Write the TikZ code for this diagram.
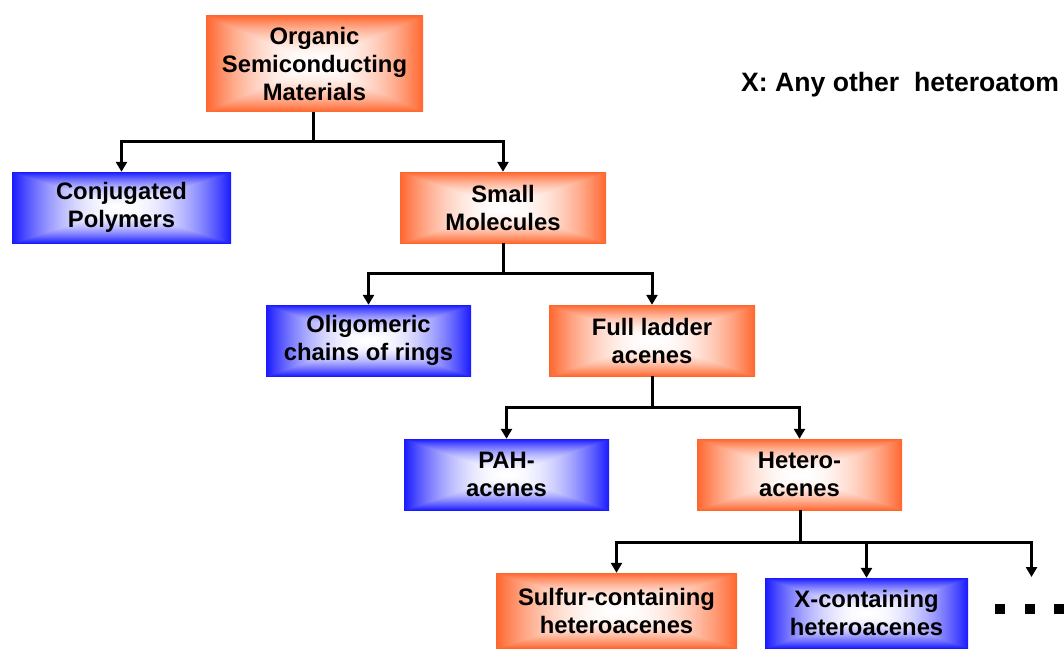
\documentclass[tikz,border=0pt]{standalone}
\usepackage{fontspec}
\setmainfont{Liberation Sans}
\usetikzlibrary{arrows.meta}
\pgfdeclarefunctionalshading{orangebox}{\pgfpoint{-50bp}{-50bp}}{\pgfpoint{50bp}{50bp}}{}{
abs exch abs 2 copy lt {exch} if pop 25 div dup 1 gt {pop 1} if dup mul
dup 0.6 mul 1 exch sub exch 0.82 mul 1 exch sub 1 3 1 roll
}
\pgfdeclarefunctionalshading{bluebox}{\pgfpoint{-50bp}{-50bp}}{\pgfpoint{50bp}{50bp}}{}{
abs exch abs 2 copy lt {exch} if pop 25 div dup 1 gt {pop 1} if dup mul
0.9 mul 1 exch sub dup 1
}
\tikzset{
  box/.style={rectangle, inner sep=0pt, align=center, font=\bfseries\fontsize{23.8}{28}\selectfont, text=black},
  obox/.style={box, shading=orangebox},
  bbox/.style={box, shading=bluebox},
  conn/.style={draw=black, line width=3pt},
  arr/.style={conn, -{Triangle[length=10pt,width=11pt]}},
  dotsq/.style={rectangle, fill=black, minimum size=10pt, inner sep=0pt},
}
\begin{document}
\begin{tikzpicture}[x=1pt,y=-1pt]
\useasboundingbox (0,0) rectangle (1064,648);
% boxes
\node[obox, minimum width=217pt, minimum height=96pt] (org) at (314.5,63.5) {Organic\\Semiconducting\\Materials};
\node[bbox, minimum width=219pt, minimum height=71pt] (cp) at (121.5,207.5) {Conjugated\\Polymers};
\node[obox, minimum width=206pt, minimum height=71pt] (sm) at (503,207.5) {Small\\Molecules};
\node[bbox, minimum width=205pt, minimum height=71pt] (olig) at (368.5,340.5) {Oligomeric\\chains of rings};
\node[obox, minimum width=206pt, minimum height=71pt] (fla) at (652,340.5) {Full ladder\\acenes};
\node[bbox, minimum width=205pt, minimum height=71pt] (pah) at (506.5,474.5) {PAH-\\acenes};
\node[obox, minimum width=205pt, minimum height=71pt] (het) at (799.5,474.5) {Hetero-\\acenes};
\node[obox, minimum width=241pt, minimum height=75pt] (sul) at (616.5,610.5) {Sulfur-containing\\heteroacenes};
\node[bbox, minimum width=203pt, minimum height=70pt] (xc) at (866.5,613) {X-containing\\heteroacenes};
% legend
\node[anchor=west, inner sep=0pt, font=\bfseries\fontsize{26.6}{30}\selectfont] (legend) at (741,84.5) {X: Any other~~heteroatom};
% dots
\node[dotsq] (d1) at (1000,608.5) {};
\node[dotsq] (d2) at (1029.5,608.5) {};
\node[dotsq] (d3) at (1059,608.5) {};
% connectors
\coordinate (j1) at (313,141.5);
\coordinate (j2) at (503,273.5);
\coordinate (j3) at (652,407);
\coordinate (j4) at (800,542.5);
\coordinate (more) at (1031.5,577);
\draw[conn] (org.south -| j1) -- (j1);
\draw[arr] (j1) -| (cp.north);
\draw[arr] (j1) -| (sm.north);
\draw[conn] (sm.south) -- (j2);
\draw[arr] (j2) -| (olig.north);
\draw[arr] (j2) -| (fla.north);
\draw[conn] (fla.south) -- (j3);
\draw[arr] (j3) -| (pah.north);
\draw[arr] (j3) -| (het.north);
\draw[conn] (het.south -| j4) -- (j4);
\draw[arr] (j4) -| (sul.north);
\draw[arr] (j4) -| (xc.north);
\draw[arr] (j4) -| (more);
\end{tikzpicture}
\end{document}
